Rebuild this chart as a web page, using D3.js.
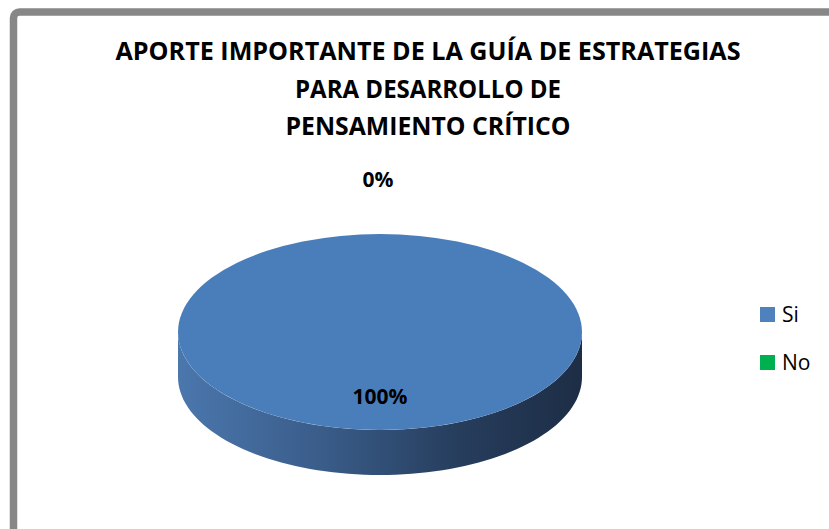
<!DOCTYPE html>
<html>
<head>
<meta charset="utf-8">
<script src="https://cdn.jsdelivr.net/npm/d3@7"></script>
<style>
  html, body { margin: 0; padding: 0; background: #fff; }
  svg { display: block; }
  text { font-family: "Open Sans", "DejaVu Sans", sans-serif; }
</style>
</head>
<body>
<svg id="chart" width="829" height="529"></svg>
<script>
// ---- data ----
const categories = ["Si", "No"];
const values = [100, 0];
const labels = ["100%", "0%"];
const colors = ["#4a7ebb", "#00b050"];
const legendColors = ["#4f81bd", "#00b050"];
const titleLines = [
  "APORTE IMPORTANTE DE LA GUÍA DE ESTRATEGIAS",
  "PARA DESARROLLO DE",
  "PENSAMIENTO CRÍTICO"
];

const W = 829, H = 529;
const svg = d3.select("#chart");

// gradient for the side wall
const defs = svg.append("defs");
const grad = defs.append("linearGradient").attr("id", "sideGrad")
  .attr("x1", "0%").attr("x2", "100%").attr("y1", "0%").attr("y2", "0%");
[[0, "#4b77ad"], [0.35, "#3a5d8a"], [0.7, "#263d5c"], [1, "#1d2d45"]]
  .forEach(([o, c]) => grad.append("stop").attr("offset", o).attr("stop-color", c));

// frame
svg.append("rect")
  .attr("x", 13.5).attr("y", 12)
  .attr("width", W + 40).attr("height", H + 40)
  .attr("rx", 6)
  .attr("fill", "none").attr("stroke", "#878787").attr("stroke-width", 7.5);

// title
const titleBaselines = [60, 98, 135];
const titleWidths = [625, 266, 285];
svg.append("g").selectAll("text").data(titleLines).join("text")
  .attr("x", 428)
  .attr("y", (d, i) => titleBaselines[i])
  .attr("text-anchor", "middle")
  .attr("font-size", 25)
  .attr("font-weight", "bold")
  .attr("fill", "#000")
  .attr("textLength", (d, i) => titleWidths[i])
  .attr("lengthAdjust", "spacingAndGlyphs")
  .text(d => d);

// 3D pie
const cx = 380, cy = 332, rx = 202, ry = 98, depth = 45;
const pie = d3.pie().sort(null).value(d => d)(values);

const px = a => cx + rx * Math.sin(a);
const py = a => cy - ry * Math.cos(a);

const pieG = svg.append("g");

// side walls (front half: angles between PI/2 and 3PI/2)
pie.forEach((s, i) => {
  const a0 = Math.max(s.startAngle, Math.PI / 2);
  const a1 = Math.min(s.endAngle, 3 * Math.PI / 2);
  if (a1 <= a0) return;
  const n = 80;
  const top = d3.range(n + 1).map(k => a0 + (a1 - a0) * k / n);
  const path = d3.path();
  path.moveTo(px(top[0]), py(top[0]));
  top.forEach(a => path.lineTo(px(a), py(a)));
  top.slice().reverse().forEach(a => path.lineTo(px(a), py(a) + depth));
  path.closePath();
  pieG.append("path").attr("d", path.toString())
    .attr("fill", i === 0 ? "url(#sideGrad)" : d3.color(colors[i]).darker(1));
});

// top faces
const arc = d3.arc().innerRadius(0).outerRadius(1);
pieG.selectAll("path.top").data(pie).join("path")
  .attr("class", "top")
  .attr("transform", `translate(${cx},${cy}) scale(${rx},${ry})`)
  .attr("d", d => (d.endAngle - d.startAngle) >= 2 * Math.PI - 1e-9
      ? "M0,-1A1,1 0 1 1 0,1A1,1 0 1 1 0,-1Z"
      : arc(d))
  .attr("fill", (d, i) => colors[i]);

// data labels
const labelPos = [[380, 404], [378, 187]];
svg.append("g").selectAll("text").data(labels).join("text")
  .attr("x", (d, i) => labelPos[i][0])
  .attr("y", (d, i) => labelPos[i][1])
  .attr("text-anchor", "middle")
  .attr("font-size", 21)
  .attr("font-weight", "bold")
  .attr("fill", "#000")
  .text(d => d);

// legend
const lg = svg.append("g").selectAll("g").data(categories).join("g")
  .attr("transform", (d, i) => `translate(760, ${307 + i * 48})`);
lg.append("rect").attr("width", 15).attr("height", 15)
  .attr("fill", (d, i) => legendColors[i]);
lg.append("text").attr("x", 22).attr("y", 15)
  .attr("font-size", 21).attr("fill", "#000")
  .text(d => d);
</script>
</body>
</html>
